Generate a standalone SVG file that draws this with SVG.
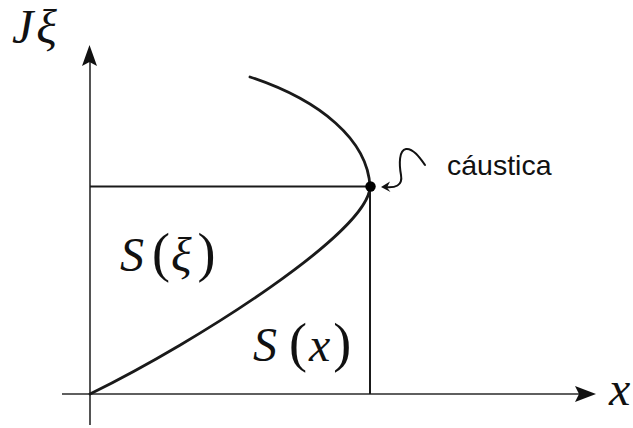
<svg xmlns="http://www.w3.org/2000/svg" width="633" height="428" viewBox="0 0 633 428">
<style>
.axis{stroke:#2a2a2a;stroke-width:1.6;fill:none}
.ln{stroke:#1a1a1a;stroke-width:2;fill:none}
.curve{stroke:#1a1a1a;stroke-width:2.8;fill:none;stroke-linecap:round}
.math{font-family:"Liberation Serif","DejaVu Serif",serif;font-size:48px;fill:#111}
.it{font-style:italic}
.par{font-size:54px;font-style:normal}
.lbl{font-family:"Liberation Sans",Arial,sans-serif;font-size:28.5px;fill:#111}
</style>
<rect width="633" height="428" fill="#fff"/>
<g id="connectors">
  <g id="y-axis">
    <line class="axis" x1="90" y1="425" x2="90" y2="60"/>
    <path d="M89.5,45 L97,66 L89.5,62 L82,66 Z" fill="#111"/>
  </g>
  <g id="x-axis">
    <line class="axis" x1="62" y1="394" x2="580" y2="394"/>
    <path d="M596,394 L575,386 L579,394 L575,402 Z" fill="#111"/>
  </g>
  <line class="ln" x1="90" y1="186.5" x2="370" y2="186.5"/>
  <line class="ln" x1="370" y1="186.5" x2="370" y2="394"/>
  <path id="caustic-arrow" d="M385,187 C395,188 403,186 401,175 C399,164 399,150 406,149 C413,148 420,158 425,165" stroke="#111" stroke-width="2" fill="none" stroke-linecap="round"/>
  <path d="M381,187 L390,181.5 L387,187.5 L390.5,192 Z" fill="#111"/>
</g>
<g id="curve">
  <path class="curve" d="M250,77 C320,100 368,140 370,187 C368,232 200,340 90,394"/>
</g>
<g id="caustic-point">
  <circle cx="370.5" cy="186.5" r="5.2" fill="#000"/>
</g>
<g id="label-Jxi">
  <text class="math it" x="12" y="43">J<tspan dx="3">ξ</tspan></text>
</g>
<g id="label-Sxi">
  <text class="math" x="120" y="271"><tspan class="it">S</tspan><tspan class="par" dx="8">(</tspan><tspan class="it" dx="1">ξ</tspan><tspan class="par" dx="6">)</tspan></text>
</g>
<g id="label-Sx">
  <text class="math" x="253" y="361"><tspan class="it">S</tspan><tspan class="par" dx="12">(</tspan><tspan class="it" dx="2">x</tspan><tspan class="par" dx="3">)</tspan></text>
</g>
<g id="label-x">
  <text class="math it" x="609" y="405">x</text>
</g>
<g id="label-caustica">
  <text class="lbl" x="447" y="175">cáustica</text>
</g>
</svg>
